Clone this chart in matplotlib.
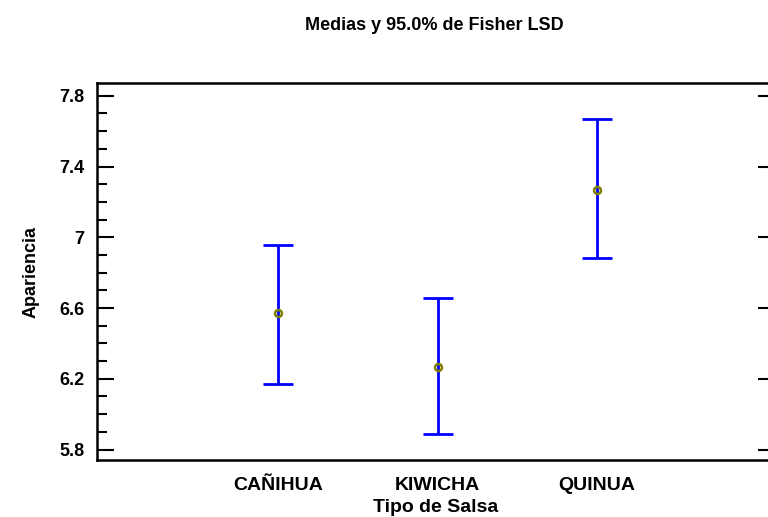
import matplotlib
matplotlib.use("Agg")
import matplotlib.pyplot as plt
from matplotlib.ticker import MultipleLocator, FixedLocator

categories = ["CAÑIHUA", "KIWICHA", "QUINUA"]
means = [6.570, 6.265, 7.267]
lower = [6.172, 5.886, 6.884]
upper = [6.956, 6.655, 7.667]
yticks = [5.8, 6.2, 6.6, 7.0, 7.4, 7.8]
ytick_labels = ["5.8", "6.2", "6.6", "7", "7.4", "7.8"]

plt.rcParams['font.family'] = ['Liberation Sans', 'DejaVu Sans']

W, H = 768, 517
fig = plt.figure(figsize=(W / 100, H / 100), dpi=100)
L, R, T, B = 97, 775, 83, 460
ax = fig.add_axes([L / W, 1 - B / H, (R - L) / W, (B - T) / H])

x = [1, 2, 3]
yerr = [[m - lo for m, lo in zip(means, lower)], [hi - m for m, hi in zip(means, upper)]]
ax.errorbar(x, means, yerr=yerr, fmt='none', ecolor='#0000ff', elinewidth=2,
            capsize=11, capthick=2)
ax.plot(x, means, linestyle='none', marker='o', markersize=5,
        markerfacecolor='none', markeredgecolor='#808000', markeredgewidth=1.8)

ax.set_xlim(-0.135, 4.116)
ax.set_ylim(5.741, 7.872)

ax.set_xticks(x)
ax.set_xticklabels(categories, fontsize=14, fontweight='bold')
ax.tick_params(axis='x', length=0, pad=12)

ax.yaxis.set_major_locator(FixedLocator(yticks))
ax.set_yticklabels(ytick_labels, fontsize=13, fontweight='bold')
ax.yaxis.set_minor_locator(MultipleLocator(0.1))
ax.tick_params(axis='y', which='major', direction='in', length=12, width=1.5,
               right=True, pad=9)
ax.tick_params(axis='y', which='minor', direction='in', length=7, width=1.5,
               right=False)

for s in ax.spines.values():
    s.set_linewidth(1.8)

ax.set_xlabel("Tipo de Salsa", fontsize=14, fontweight='bold', labelpad=4)
ax.set_ylabel("Apariencia", fontsize=13, fontweight='bold', labelpad=14)

fig.text(434 / W, 1 - 25 / H, "Medias y 95.0% de Fisher LSD", ha='center', va='center',
         fontsize=13, fontweight='bold')

fig.savefig("out.png", dpi=100)
